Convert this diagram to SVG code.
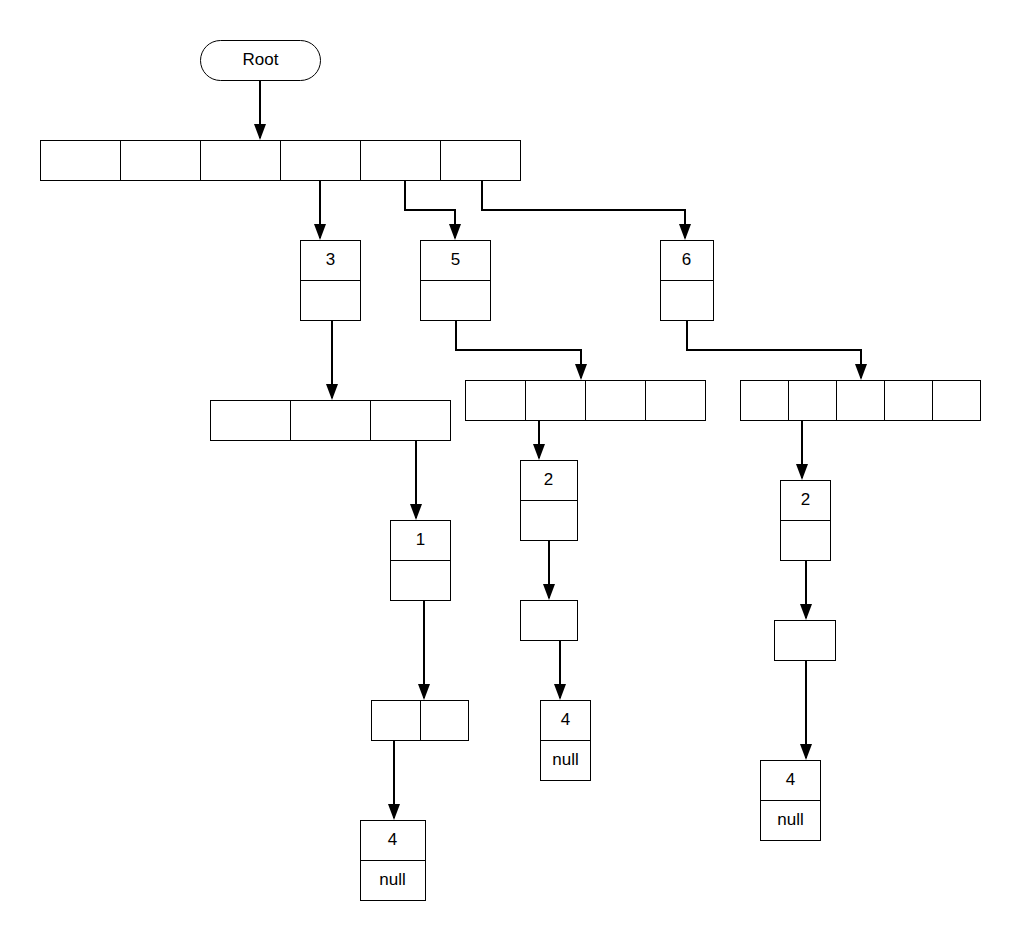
<svg xmlns="http://www.w3.org/2000/svg" width="1020" height="940" viewBox="0 0 1020 940">
<style>
.b{fill:#fff;stroke:#000;stroke-width:1}
.d{stroke:#000;stroke-width:1}
.t{font-family:"Liberation Sans",Arial,sans-serif;font-size:17px;fill:#000;text-anchor:middle}
.c{fill:none;stroke:#000;stroke-width:2;marker-end:url(#ah)}
</style>
<defs>
<marker id="ah" markerUnits="userSpaceOnUse" viewBox="0 0 16 12" refX="14" refY="6" markerWidth="16" markerHeight="12" orient="auto">
<path d="M0,0 L16,6 L0,12 z" fill="#000"/>
</marker>
</defs>
<rect width="1020" height="940" fill="#fff"/>
<g transform="translate(0.5,0.5)">
<g id="root">
<rect class="b" x="200" y="40" width="120" height="40" rx="20" ry="20"/>
<text class="t" x="260" y="64">Root</text>
</g>
<g id="array-top">
<rect class="b" x="40" y="140" width="480" height="40"/>
<path class="d" d="M120,140 V180 M200,140 V180 M280,140 V180 M360,140 V180 M440,140 V180"/>
</g>
<g id="node-3">
<rect class="b" x="300" y="240" width="60" height="80"/>
<path class="d" d="M300,280 H360"/>
<text class="t" x="330" y="264">3</text>
</g>
<g id="node-5">
<rect class="b" x="420" y="240" width="70" height="80"/>
<path class="d" d="M420,280 H490"/>
<text class="t" x="455" y="264">5</text>
</g>
<g id="node-6">
<rect class="b" x="660" y="240" width="53" height="80"/>
<path class="d" d="M660,280 H713"/>
<text class="t" x="686" y="264">6</text>
</g>
<g id="array-3">
<rect class="b" x="210" y="400" width="240" height="40"/>
<path class="d" d="M290,400 V440 M370,400 V440"/>
</g>
<g id="array-5">
<rect class="b" x="465" y="380" width="240" height="40"/>
<path class="d" d="M525,380 V420 M585,380 V420 M645,380 V420"/>
</g>
<g id="array-6">
<rect class="b" x="740" y="380" width="240" height="40"/>
<path class="d" d="M788,380 V420 M836,380 V420 M884,380 V420 M932,380 V420"/>
</g>
<g id="node-1">
<rect class="b" x="390" y="520" width="60" height="80"/>
<path class="d" d="M390,560 H450"/>
<text class="t" x="420" y="544">1</text>
</g>
<g id="array-1">
<rect class="b" x="371" y="700" width="97" height="40"/>
<path class="d" d="M420,700 V740"/>
</g>
<g id="node-4a">
<rect class="b" x="360" y="820" width="65" height="80"/>
<path class="d" d="M360,860 H425"/>
<text class="t" x="392" y="844">4</text>
<text class="t" x="392" y="884">null</text>
</g>
<g id="node-2a">
<rect class="b" x="520" y="460" width="57" height="80"/>
<path class="d" d="M520,500 H577"/>
<text class="t" x="548" y="484">2</text>
</g>
<g id="box-a">
<rect class="b" x="520" y="600" width="57" height="40"/>
</g>
<g id="node-4b">
<rect class="b" x="540" y="700" width="50" height="80"/>
<path class="d" d="M540,740 H590"/>
<text class="t" x="565" y="724">4</text>
<text class="t" x="565" y="764">null</text>
</g>
<g id="node-2b">
<rect class="b" x="780" y="480" width="50" height="80"/>
<path class="d" d="M780,520 H830"/>
<text class="t" x="805" y="504">2</text>
</g>
<g id="box-b">
<rect class="b" x="774" y="620" width="61" height="40"/>
</g>
<g id="node-4c">
<rect class="b" x="760" y="760" width="60" height="80"/>
<path class="d" d="M760,800 H820"/>
<text class="t" x="790" y="784">4</text>
<text class="t" x="790" y="824">null</text>
</g>
</g>
<g id="connectors">
<path class="c" d="M260,80 V138"/>
<path class="c" d="M320,180 V238"/>
<path class="c" d="M405,180 V210 H455 V238"/>
<path class="c" d="M482,180 V210 H685 V238"/>
<path class="c" d="M332,320 V398"/>
<path class="c" d="M456,320 V350 H581 V378"/>
<path class="c" d="M687,320 V350 H861 V378"/>
<path class="c" d="M416,440 V518"/>
<path class="c" d="M424,600 V698"/>
<path class="c" d="M394,740 V818"/>
<path class="c" d="M539,420 V458"/>
<path class="c" d="M549,540 V598"/>
<path class="c" d="M560,640 V698"/>
<path class="c" d="M802,420 V478"/>
<path class="c" d="M806,560 V618"/>
<path class="c" d="M806,660 V758"/>
</g>
</svg>
